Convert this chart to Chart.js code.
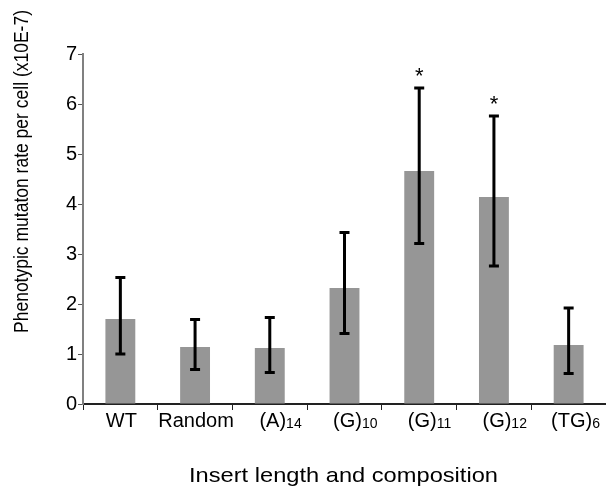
<!DOCTYPE html>
<html>
<head>
<meta charset="utf-8">
<script src="https://cdn.jsdelivr.net/npm/chart.js@4/dist/chart.umd.min.js"></script>
<style>
  html, body { margin: 0; padding: 0; background: #fff; }
  #wrap { width: 606px; height: 486px; }
</style>
</head>
<body>
<div id="wrap"><canvas id="mutChart" width="606" height="486"></canvas></div>
<script>
// data
const categories = ['WT', 'Random', '(A)', '(G)', '(G)', '(G)', '(TG)'];
const subscripts = ['', '', '14', '10', '11', '12', '6'];
const means = [1.70, 1.14, 1.12, 2.32, 4.66, 4.14, 1.18];
const errLow = [1.00, 0.69, 0.63, 1.41, 3.21, 2.76, 0.61];
const errHigh = [2.53, 1.69, 1.73, 3.43, 6.32, 5.76, 1.92];
const starred = [false, false, false, false, true, true, false];
const yTicks = [0, 1, 2, 3, 4, 5, 6, 7];

const FONT = "'Liberation Sans', Arial, sans-serif";

// draw text squeezed/stretched to a given width
function fitText(ctx, text, x, y, width) {
    const w = ctx.measureText(text).width;
    ctx.save();
    ctx.translate(x, y);
    ctx.scale(width / w, 1);
    ctx.fillText(text, 0, 0);
    ctx.restore();
}

const errorBars = {
    id: 'errorBars',
    afterDatasetsDraw(chart) {
        const ctx = chart.ctx;
        const xs = chart.scales.x, ys = chart.scales.y;
        ctx.save();
        ctx.strokeStyle = '#000';
        ctx.lineWidth = 3;
        means.forEach((m, i) => {
            const x = xs.getPixelForValue(i);
            const top = ys.getPixelForValue(errHigh[i]);
            const bot = ys.getPixelForValue(errLow[i]);
            ctx.beginPath();
            ctx.moveTo(x, top); ctx.lineTo(x, bot);
            ctx.moveTo(x - 5, top); ctx.lineTo(x + 5, top);
            ctx.moveTo(x - 5, bot); ctx.lineTo(x + 5, bot);
            ctx.stroke();
            if (starred[i]) {
                ctx.fillStyle = '#000';
                ctx.font = '22px ' + FONT;
                ctx.textAlign = 'center';
                ctx.textBaseline = 'alphabetic';
                ctx.fillText('*', x, top - 5);
            }
        });
        ctx.restore();
    },
    afterDraw(chart) {
        const ctx = chart.ctx;
        const xs = chart.scales.x;
        ctx.save();
        ctx.fillStyle = '#000';
        ctx.textBaseline = 'alphabetic';
        // category labels with subscripts
        categories.forEach((c, i) => {
            const x = xs.getPixelForValue(i) + (subscripts[i] ? 3 : 1);
            ctx.font = '20px ' + FONT;
            ctx.textAlign = 'center';
            ctx.fillText(c, x, 427);
            if (subscripts[i]) {
                const w = ctx.measureText(c).width;
                ctx.font = '14px ' + FONT;
                ctx.textAlign = 'left';
                ctx.fillText(subscripts[i], x + w / 2, 428);
            }
        });
        // x title
        ctx.font = '21px ' + FONT;
        ctx.textAlign = 'left';
        fitText(ctx, 'Insert length and composition', 189, 482, 309);
        // y title
        ctx.save();
        ctx.translate(27.5, 333);
        ctx.rotate(-Math.PI / 2);
        ctx.font = '21px ' + FONT;
        ctx.textAlign = 'left';
        fitText(ctx, 'Phenotypic mutaton rate per cell (x10E-7)', 0, 0, 323);
        ctx.restore();
        ctx.restore();
    }
};

new Chart(document.getElementById('mutChart'), {
    type: 'bar',
    data: {
        labels: categories,
        datasets: [{
            data: means,
            backgroundColor: '#969696',
            borderWidth: 0,
            barPercentage: 0.4,
            categoryPercentage: 1.0
        }]
    },
    options: {
        responsive: false,
        animation: false,
        events: [],
        layout: { padding: { top: 54, right: 0, bottom: 0, left: 0 } },
        plugins: { legend: { display: false }, tooltip: { enabled: false } },
        scales: {
            x: {
                grid: { offset: true, drawOnChartArea: false, drawTicks: true, tickLength: 6, color: '#222', lineWidth: 1 },
                border: { color: '#222', width: 2 },
                ticks: { display: false },
                afterFit(scale) { scale.height = 82; }
            },
            y: {
                min: 0, max: 7,
                afterBuildTicks(scale) { scale.ticks = yTicks.map(v => ({ value: v })); },
                grid: { drawOnChartArea: false, tickLength: 5, color: '#555', lineWidth: 1 },
                border: { color: '#808080', width: 2 },
                ticks: { color: '#000', font: { family: FONT, size: 20 }, padding: 1 },
                afterFit(scale) { scale.width = 83; }
            }
        }
    },
    plugins: [errorBars]
});
</script>
</body>
</html>
